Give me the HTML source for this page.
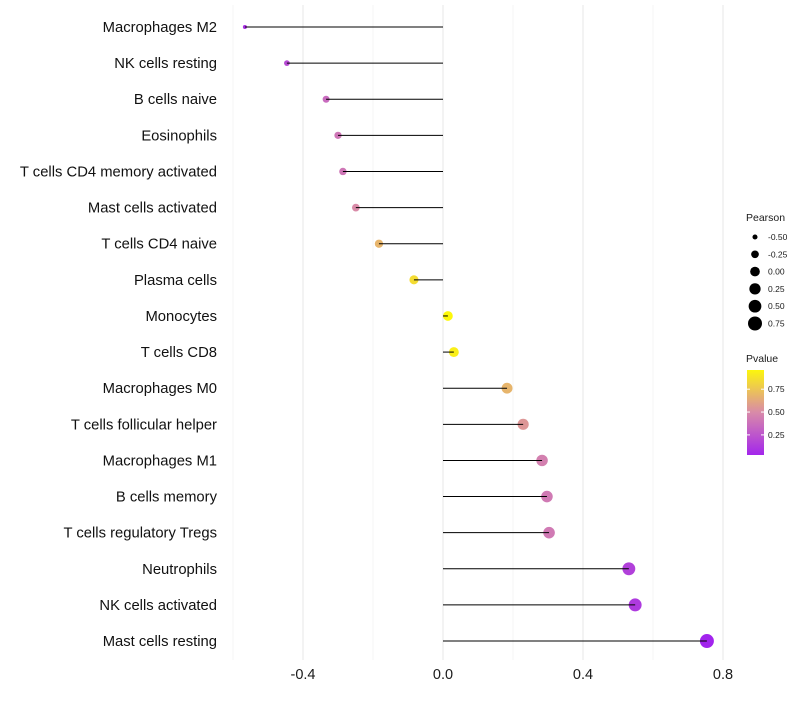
<!DOCTYPE html>
<html><head><meta charset="utf-8"><style>
body{margin:0;background:#fff;font-family:"Liberation Sans",sans-serif}
svg text{font-family:"Liberation Sans",sans-serif}
</style></head><body>
<svg id="chart" width="800" height="700"></svg>
<script>
const categories=["Macrophages M2","NK cells resting","B cells naive","Eosinophils","T cells CD4 memory activated","Mast cells activated","T cells CD4 naive","Plasma cells","Monocytes","T cells CD8","Macrophages M0","T cells follicular helper","Macrophages M1","B cells memory","T cells regulatory  Tregs","Neutrophils","NK cells activated","Mast cells resting"];
const pearson=[-0.566,-0.446,-0.334,-0.30,-0.286,-0.249,-0.183,-0.083,0.014,0.031,0.183,0.229,0.283,0.297,0.303,0.531,0.549,0.754];
const pvalues=[0.08,0.2,0.35,0.4,0.4,0.5,0.68,0.85,0.97,0.93,0.68,0.55,0.45,0.42,0.42,0.15,0.12,0.02];
const xTicks=[-0.4,0,0.4,0.8];
const xTickLabels=["-0.4","0.0","0.4","0.8"];
const sizeLegend=[-0.5,-0.25,0,0.25,0.5,0.75];
const sizeLegendLabels=["-0.50","-0.25","0.00","0.25","0.50","0.75"];
const colorTicks=[0.75,0.5,0.25];
const colorTickLabels=["0.75","0.50","0.25"];

const NS="http://www.w3.org/2000/svg";
const svg=document.getElementById('chart');
function el(t,a,p){const e=document.createElementNS(NS,t);for(const k in a)e.setAttribute(k,a[k]);(p||svg).appendChild(e);return e;}
const x=v=>443+v*350;
const y=i=>27+i*36.12;
const r=v=>Math.sqrt(Math.max(1,23.4+34*v));
function lerp(a,b,t){return a.map((c,i)=>Math.round(c+(b[i]-c)*t));}
function color(p){const lo=[160,32,240],mid=[217,139,168],hi=[255,255,0];
 const c=p<0.5?lerp(lo,mid,p/0.5):lerp(mid,hi,(p-0.5)/0.5);return `rgb(${c})`;}

[-0.6,-0.2,0.2,0.6].forEach(v=>{const g=el('line',{x1:x(v),x2:x(v),y1:5,y2:660,stroke:'#f2f2f2','stroke-width':0.8});
});
xTicks.forEach((v,i)=>{const g=el('line',{x1:x(v),x2:x(v),y1:5,y2:660,stroke:'#ebebeb','stroke-width':1.2});

const t=el('text',{x:x(v),y:679,'text-anchor':'middle','font-size':14.5,fill:'#1a1a1a'});t.textContent=xTickLabels[i];
});

categories.forEach((c,i)=>{
 const t=el('text',{x:217,y:y(i)+5,'text-anchor':'end','font-size':14.8,fill:'#111'});t.textContent=c;
 
 const d=el('circle',{cx:x(pearson[i]),cy:y(i),r:r(pearson[i]),fill:color(pvalues[i])});
 
 const l=el('line',{x1:x(0),x2:x(pearson[i]),y1:y(i),y2:y(i),stroke:'#000','stroke-width':1});
 
});

const st=el('text',{x:746,y:221,'font-size':10.5,fill:'#1a1a1a'});st.textContent='Pearson';

sizeLegend.forEach((v,i)=>{const cy=237+i*17.3;
 const c=el('circle',{cx:755,cy:cy,r:r(v),fill:'#000'});
 
 const t=el('text',{x:768,y:cy+3,'font-size':8.5,fill:'#1a1a1a'});t.textContent=sizeLegendLabels[i];
 });

const ct=el('text',{x:746,y:362,'font-size':10.5,fill:'#1a1a1a'});ct.textContent='Pvalue';

const defs=el('defs',{});const gr=el('linearGradient',{id:'pg',x1:0,y1:1,x2:0,y2:0},defs);
for(let k=0;k<=10;k++){const p=0.03+k*0.093;el('stop',{offset:k/10,'stop-color':color(p)},gr);}
const bar=el('rect',{x:747,y:370,width:17,height:85,fill:'url(#pg)'});

colorTicks.forEach((v,i)=>{const cy=370+(0.96-v)/0.93*85;
 el('line',{x1:747,x2:750,y1:cy,y2:cy,stroke:'#fff'});el('line',{x1:761,x2:764,y1:cy,y2:cy,stroke:'#fff'});
 const t=el('text',{x:768,y:cy+3,'font-size':8.5,fill:'#1a1a1a'});t.textContent=colorTickLabels[i];
 });
</script>
</body></html>
